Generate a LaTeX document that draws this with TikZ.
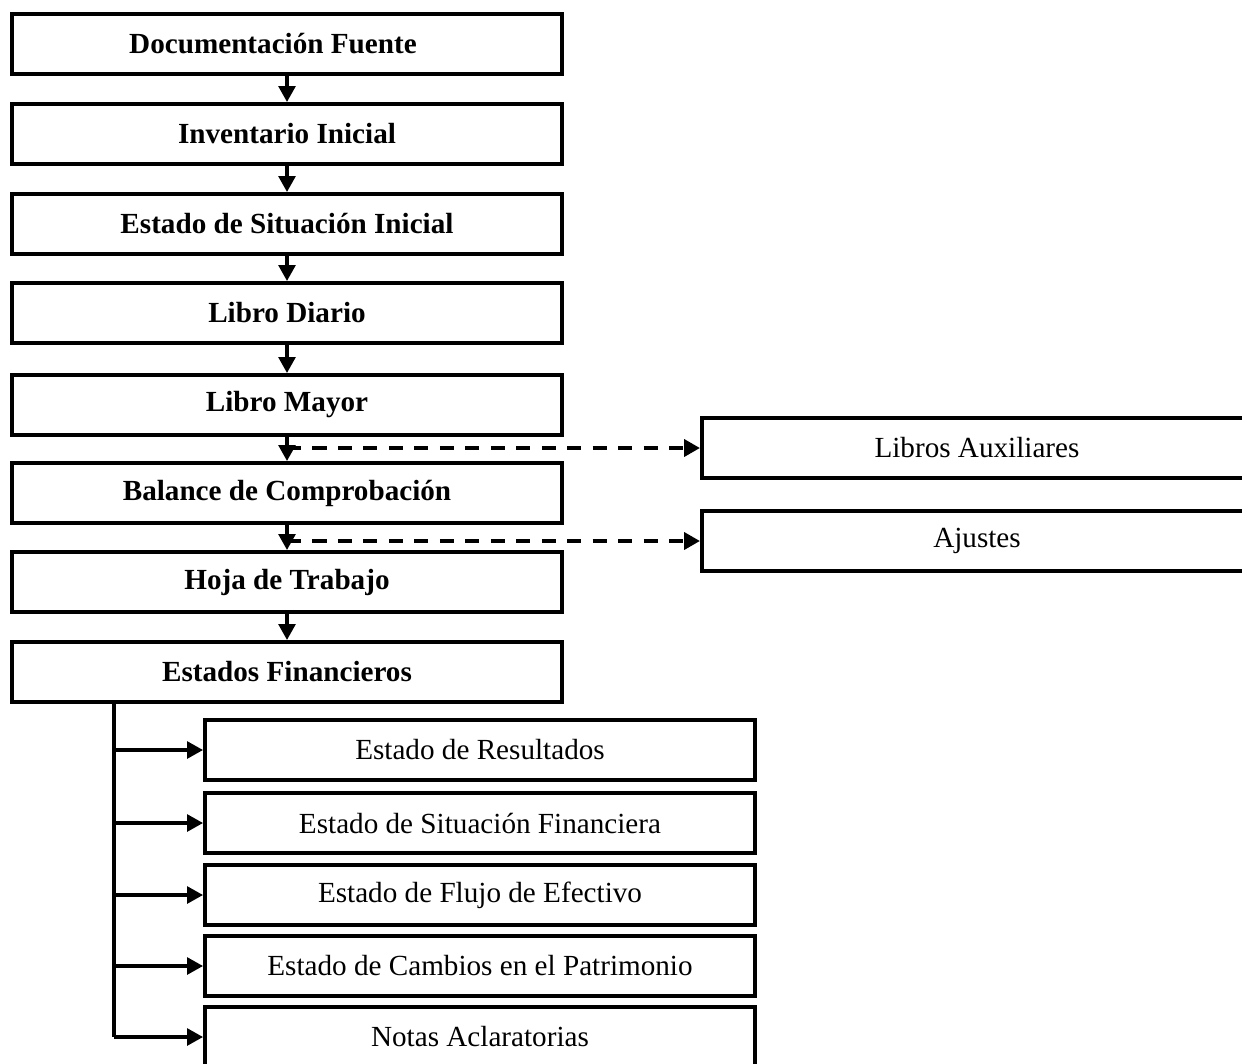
\documentclass[tikz,border=0pt]{standalone}
\usepackage{fontspec}
\setmainfont{Liberation Serif}
\usepackage{tikz}
\usetikzlibrary{arrows.meta}

\begin{document}
\begin{tikzpicture}[
  x=0.02cm, y=-0.02cm,
  font=\fontsize{16.6}{20}\selectfont,
  paso/.style={draw=black, line width=2.3pt, fill=white,
               minimum width=11cm, minimum height=1.2cm,
               inner sep=0pt, font=\fontsize{16.6}{20}\selectfont\bfseries},
  anexo/.style={draw=black, line width=2.3pt, fill=white,
                minimum width=11cm, minimum height=1.2cm, inner sep=0pt},
  flow/.style={-{Triangle[length=9pt,width=9.5pt]}, line width=1.8pt},
  guia/.style={flow, line width=2.6pt, dash pattern=on 8pt off 6.5pt}
]
  \useasboundingbox (0,0) rectangle (1242,1063);
  \clip (0,0) rectangle (1242,1063);

  \node[paso] (docu) at (287,44) {Documentación Fuente\hspace*{0.56cm}};
  \node[paso] (inv) at (287,134) {Inventario Inicial};
  \node[paso] (esi) at (287,224) {Estado de Situación Inicial};
  \node[paso] (diario) at (287,313) {Libro Diario};
  \node[paso] (mayor) at (287,405) {Libro Mayor};
  \node[paso] (balance) at (287,493) {Balance de Comprobación};
  \node[paso] (hoja) at (287,582) {Hoja de Trabajo};
  \node[paso] (finan) at (287,672) {Estados Financieros};

  \node[anexo] (aux) at (977,448) {Libros Auxiliares};
  \node[anexo] (ajustes) at (977,541) {Ajustes};

  \node[anexo] (result) at (480,750) {Estado de Resultados};
  \node[anexo] (sitfin) at (480,823) {Estado de Situación Financiera};
  \node[anexo] (flujo) at (480,895) {Estado de Flujo de Efectivo};
  \node[anexo] (cambios) at (480,966) {Estado de Cambios en el Patrimonio};
  \node[anexo] (notas) at (480,1037) {Notas Aclaratorias};

  \draw[flow] (docu) -- (inv);
  \draw[flow] (inv) -- (esi);
  \draw[flow] (esi) -- (diario);
  \draw[flow] (diario) -- (mayor);
  \draw[flow] (mayor) -- (balance);
  \draw[flow] (balance) -- (hoja);
  \draw[flow] (hoja) -- (finan);

  \coordinate (auxde) at (mayor.south |- aux.west);
  \coordinate (ajude) at (balance.south |- ajustes.west);
  \draw[guia] (auxde) -- (aux.west);
  \draw[guia] (ajude) -- (ajustes.west);

  % tronco de los estados financieros
  \coordinate (tronco) at (114,702);
  \draw[line width=2pt] (tronco) -- (tronco |- notas.west);
  \draw[flow] (tronco |- result.west) -- (result.west);
  \draw[flow] (tronco |- sitfin.west) -- (sitfin.west);
  \draw[flow] (tronco |- flujo.west) -- (flujo.west);
  \draw[flow] (tronco |- cambios.west) -- (cambios.west);
  \draw[flow] (tronco |- notas.west) -- (notas.west);
\end{tikzpicture}
\end{document}
